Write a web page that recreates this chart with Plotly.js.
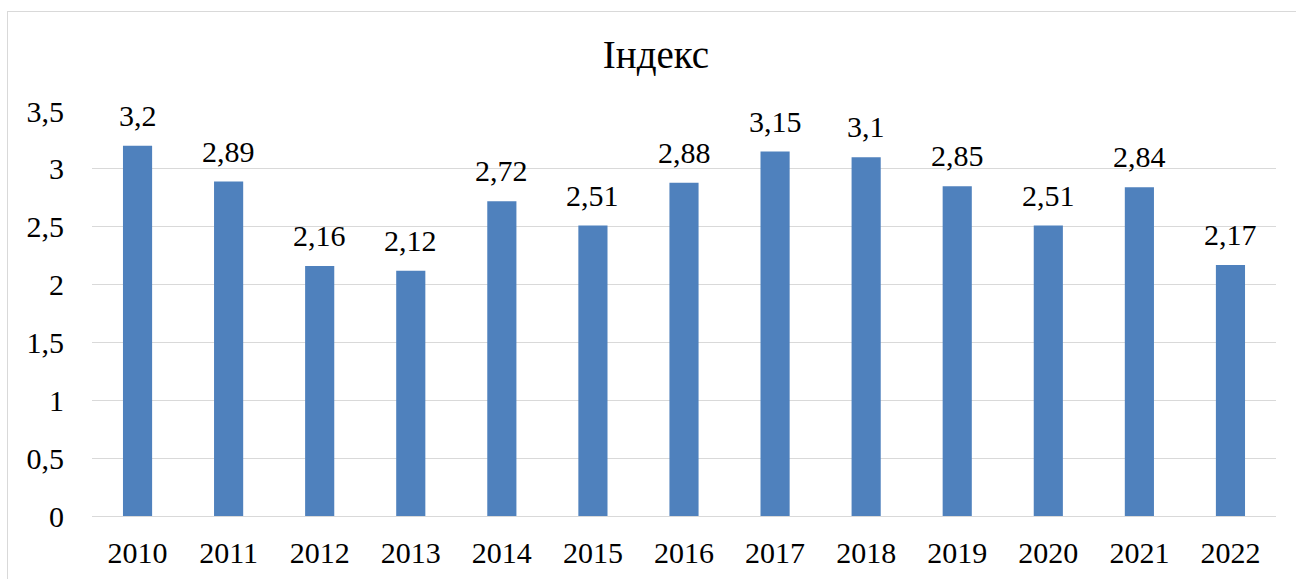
<!DOCTYPE html>
<html>
<head>
<meta charset="utf-8">
<script src="https://cdn.plot.ly/plotly-3.0.1.min.js"></script>
<style>
  html, body { margin: 0; padding: 0; background: #fff; }
  #wrap { position: relative; width: 1296px; height: 579px; overflow: hidden; }
  #chart { position: absolute; left: 0; top: 0; width: 1296px; height: 579px; }
  #frame { position: absolute; left: 7px; top: 11px; width: 1300px; height: 600px; border: 1px solid #d9d9d9; pointer-events: none; }
</style>
</head>
<body>
<div id="wrap">
  <div id="chart"></div>
  <div id="frame"></div>
</div>
<script>
const years = ['2010','2011','2012','2013','2014','2015','2016','2017','2018','2019','2020','2021','2022'];
const values = [3.2, 2.89, 2.16, 2.12, 2.72, 2.51, 2.88, 3.15, 3.1, 2.85, 2.51, 2.84, 2.17];
const chartTitle = 'Індекс';

const FONT = 'Liberation Serif, Times New Roman, serif';

const trace = {
  type: 'bar',
  x: years,
  y: values,
  marker: { color: '#4f81bd' },
  hoverinfo: 'x+y'
};

const annotations = years.map((yr, i) => ({
  x: i,
  y: values[i],
  xref: 'x',
  yref: 'y',
  text: String(values[i]).replace('.', ','),
  showarrow: false,
  yanchor: 'bottom',
  yshift: 12,
  font: { family: FONT, size: 30, color: '#000' }
}));

const layout = {
  width: 1296,
  height: 579,
  margin: { l: 92, r: 20, t: 111, b: 63 },
  paper_bgcolor: 'rgba(0,0,0,0)',
  plot_bgcolor: '#fff',
  separators: ', ',
  bargap: 0.68,
  showlegend: false,
  font: { family: FONT, color: '#000' },
  title: {
    text: chartTitle,
    font: { family: FONT, size: 39, color: '#000' },
    x: 656 / 1296,
    xref: 'container',
    xanchor: 'center',
    y: 1 - 54 / 579,
    yref: 'container',
    yanchor: 'middle'
  },
  xaxis: {
    type: 'category',
    range: [-0.5, years.length - 0.5],
    autorange: false,
    tickfont: { family: FONT, size: 30, color: '#000' },
    showgrid: false,
    showline: false,
    ticks: '',
    ticklabelstandoff: 16
  },
  yaxis: {
    range: [0, 3.5],
    autorange: false,
    dtick: 0.5,
    tick0: 0,
    showgrid: true,
    gridcolor: '#d9d9d9',
    gridwidth: 1,
    zeroline: true,
    zerolinecolor: '#d9d9d9',
    zerolinewidth: 1,
    showline: false,
    ticks: '',
    tickfont: { family: FONT, size: 30, color: '#000' },
    ticklabelstandoff: 27
  },
  annotations: annotations
};

Plotly.newPlot('chart', [trace], layout, { displayModeBar: false, staticPlot: true });
</script>
</body>
</html>
